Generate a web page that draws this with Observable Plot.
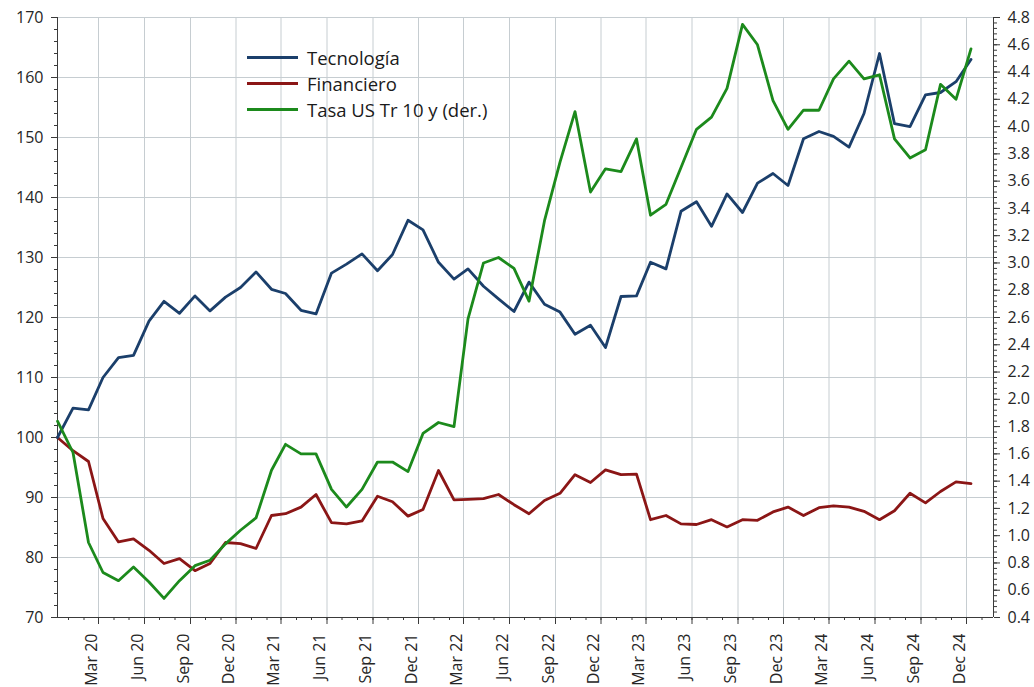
<!DOCTYPE html>
<html><head><meta charset="utf-8">
<script src="https://cdn.jsdelivr.net/npm/d3@7"></script>
<script src="https://cdn.jsdelivr.net/npm/@observablehq/plot@0.6"></script>
<style>
body{margin:0;background:#fff;font-family:"Open Sans",sans-serif;}
#wrap{position:relative;width:1034px;height:687px;}
#legend{position:absolute;left:247px;top:44px;font-size:18.5px;color:#1a1a1a;}
.item{display:flex;align-items:center;height:26px;white-space:nowrap;}
.sw{width:51px;height:0;border-top:3px solid;margin-right:9px;}
</style></head><body><div id="wrap"><div id="legend"></div></div>
<script>
const meses = [
"2019-12","2020-01","2020-02","2020-03","2020-04","2020-05","2020-06","2020-07","2020-08","2020-09","2020-10","2020-11","2020-12",
"2021-01","2021-02","2021-03","2021-04","2021-05","2021-06","2021-07","2021-08","2021-09","2021-10","2021-11","2021-12",
"2022-01","2022-02","2022-03","2022-04","2022-05","2022-06","2022-07","2022-08","2022-09","2022-10","2022-11","2022-12",
"2023-01","2023-02","2023-03","2023-04","2023-05","2023-06","2023-07","2023-08","2023-09","2023-10","2023-11","2023-12",
"2024-01","2024-02","2024-03","2024-04","2024-05","2024-06","2024-07","2024-08","2024-09","2024-10","2024-11","2024-12"];
const tecnologia = [100,104.9,104.6,110,113.3,113.7,119.4,122.7,120.7,123.6,121.1,123.4,125,
127.6,124.7,124,121.2,120.6,127.4,128.9,130.6,127.8,130.5,136.2,134.6,
129.2,126.4,128.1,125.2,123.1,121,125.9,122.2,120.9,117.2,118.7,115,
123.5,123.6,129.2,128.1,137.7,139.3,135.2,140.6,137.5,142.4,144,142,
149.8,151,150.2,148.4,154,164,152.3,151.8,157.1,157.5,159.3,163];
const financiero = [100,97.8,96,86.5,82.6,83.1,81.2,79,79.8,77.8,79,82.5,82.3,
81.5,87,87.3,88.4,90.5,85.8,85.6,86.1,90.2,89.3,86.9,88,
94.5,89.6,89.7,89.8,90.5,88.8,87.3,89.5,90.7,93.8,92.5,94.6,
93.8,93.9,86.3,87,85.6,85.5,86.3,85.1,86.3,86.2,87.6,88.4,
87,88.3,88.6,88.4,87.7,86.3,87.8,90.7,89.1,91,92.6,92.3];
const tasa = [1.84,1.61,0.95,0.73,0.67,0.77,0.66,0.54,0.67,0.78,0.82,0.94,1.04,
1.13,1.48,1.67,1.6,1.6,1.34,1.21,1.34,1.54,1.54,1.47,1.75,
1.83,1.8,2.59,3.0,3.04,2.96,2.72,3.31,3.74,4.11,3.52,3.69,
3.67,3.91,3.35,3.43,3.7,3.98,4.07,4.28,4.75,4.6,4.19,3.98,
4.12,4.12,4.35,4.48,4.35,4.38,3.91,3.77,3.83,4.31,4.2,4.57];
const ticksIzq = [70,80,90,100,110,120,130,140,150,160,170];
const ticksDer = [0.4,0.6,0.8,1.0,1.2,1.4,1.6,1.8,2.0,2.2,2.4,2.6,2.8,3.0,3.2,3.4,3.6,3.8,4.0,4.2,4.4,4.6,4.8];
const series = [
  {name:"Tecnología", color:"#1b3f6b"},
  {name:"Financiero", color:"#8b1616"},
  {name:"Tasa US Tr 10 y (der.)", color:"#1c8a1c"}
];

const R0 = 0.4, R1 = 4.8, L0 = 70, L1 = 170;
const toLeft = r => L0 + (r - R0) * (L1 - L0) / (R1 - R0);
const toRight = v => R0 + (v - L0) * (R1 - R0) / (L1 - L0);

const dates = meses.map(m => new Date(m + "-10T00:00:00Z"));
const x0 = new Date(Date.UTC(2019, 11, 10)), x1 = new Date(Date.UTC(2025, 0, 24));
const rows = dates.map((d, i) => ({d, tec: tecnologia[i], fin: financiero[i], tasa: toLeft(tasa[i])}));

const quarterTicks = d3.utcMonth.range(new Date(Date.UTC(2020,2,1)), new Date(Date.UTC(2025,0,1)), 3);
const monthTicks = d3.utcMonth.range(new Date(Date.UTC(2020,0,1)), x1);
const minorLeft = d3.range(70, 170.001, 2);
const minorRight = d3.range(0, 111).map(i => toLeft(0.4 + i * 0.04)).filter(v => v <= 170.001);
const axisColor = "#3a3a3a";
const gridColor = "#c6cdd1";

const chart = Plot.plot({
  width: 1034, height: 687,
  marginLeft: 57, marginRight: 41, marginTop: 17, marginBottom: 70,
  style: {fontFamily: "'Open Sans', sans-serif", fontSize: "16px", color: "#262626", background: "white", overflow: "visible"},
  x: {type: "utc", domain: [x0, x1]},
  y: {domain: [L0, L1]},
  marks: [
    Plot.gridY({ticks: ticksIzq, stroke: gridColor, strokeOpacity: 1}),
    Plot.gridX({ticks: quarterTicks, stroke: gridColor, strokeOpacity: 1}),
    Plot.axisY({ticks: minorLeft, tickSize: 3, text: null, stroke: axisColor, label: null}),
    Plot.axisY({ticks: ticksIzq, tickSize: 6, tickPadding: 8, stroke: axisColor, label: null}),
    Plot.axisY({anchor: "right", ticks: ticksDer.map(toLeft), tickSize: 6, tickPadding: 8, stroke: axisColor,
      tickFormat: v => toRight(v).toFixed(1), label: null}),
    Plot.axisY({anchor: "right", ticks: minorRight, tickSize: 3, text: null, stroke: axisColor, label: null}),
    Plot.axisX({ticks: monthTicks, tickSize: 3, text: null, stroke: axisColor, label: null}),
    Plot.axisX({ticks: quarterTicks, tickSize: 7, text: null, stroke: axisColor, label: null}),
    Plot.axisX({ticks: quarterTicks, tickSize: 0, tickPadding: 16, tickRotate: -90, dx: -7,
      tickFormat: d3.utcFormat("%b %y"), label: null}),
    Plot.ruleY([L0], {stroke: axisColor}),
    Plot.ruleX([x0, x1], {stroke: axisColor}),
    Plot.lineY(rows, {x: "d", y: "fin", stroke: series[1].color, strokeWidth: 2.8}),
    Plot.lineY(rows, {x: "d", y: "tec", stroke: series[0].color, strokeWidth: 2.8}),
    Plot.lineY(rows, {x: "d", y: "tasa", stroke: series[2].color, strokeWidth: 2.8})
  ]
});
const wrap = document.getElementById("wrap");
wrap.insertBefore(chart, wrap.firstChild);
const legend = document.getElementById("legend");
for (const s of series) {
  const it = document.createElement("div");
  it.className = "item";
  const sw = document.createElement("span");
  sw.className = "sw"; sw.style.borderTopColor = s.color;
  const tx = document.createElement("span");
  tx.textContent = s.name;
  it.appendChild(sw); it.appendChild(tx);
  legend.appendChild(it);
}
</script></body></html>
